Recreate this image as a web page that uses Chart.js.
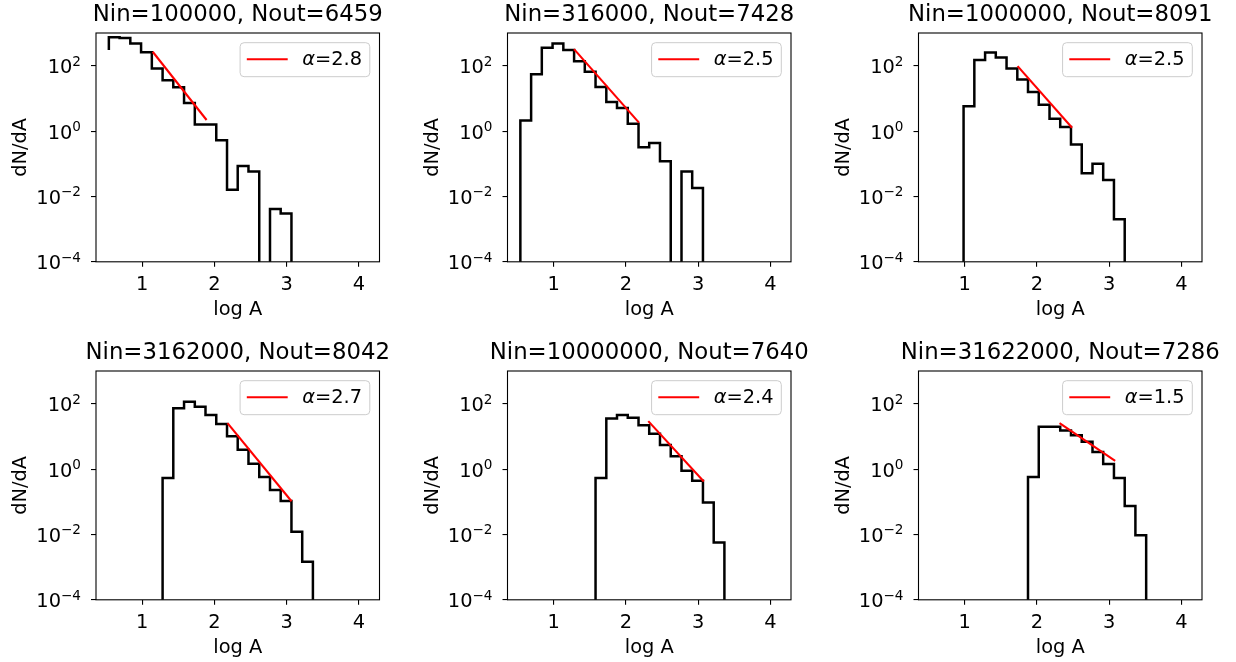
<!DOCTYPE html>
<html>
<head>
<meta charset="utf-8">
<title>dN/dA histograms</title>
<script src="https://cdn.jsdelivr.net/npm/chart.js@4.4.1/dist/chart.umd.min.js"></script>
<style>
  html, body { margin: 0; padding: 0; background: #ffffff; }
  #figure { position: relative; width: 1236px; height: 662px; overflow: hidden; }
  #figure canvas { position: absolute; left: 0; top: 0; }
</style>
</head>
<body>
<div id="figure"></div>
<script>
// ---- data -------------------------------------------------------------
// Histogram bin edges in log A (24 bins)
const BIN_EDGES = [0.538, 0.687, 0.835, 0.984, 1.133, 1.282, 1.430, 1.579, 1.728,
                   1.876, 2.025, 2.174, 2.322, 2.471, 2.620, 2.769, 2.917, 3.066,
                   3.215, 3.363, 3.512, 3.661, 3.810, 3.958, 4.107];

// dN/dA per bin for each run (0 = empty bin)
const DNDA_100000   = [740, 700, 480, 256, 82, 36, 22, 7.2, 1.6, 1.6, 0.52, 0.016,
                       0.085, 0.058, 0, 0.0041, 0.0030, 0, 0, 0, 0, 0, 0, 0];
const DNDA_316000   = [2.1, 55, 355, 480, 300, 137, 65, 22.4, 7.8, 5.1, 1.68, 0.32,
                       0.43, 0.12, 0, 0.058, 0.018, 0, 0, 0, 0, 0, 0, 0];
const DNDA_1000000  = [0, 0, 0, 5.7, 148, 253, 178, 82, 37.6, 15.8, 6.4, 2.4,
                       1.33, 0.39, 0.051, 0.10, 0.032, 0.0020, 0, 0, 0, 0, 0, 0];
const DNDA_3162000  = [0, 0, 0, 0, 0, 0.53, 72, 115, 81, 45, 24, 10,
                       3.9, 1.46, 0.57, 0.23, 0.106, 0.012, 0.00145, 0, 0, 0, 0, 0];
const DNDA_10000000 = [0, 0, 0, 0, 0, 0, 0, 0.53, 35.5, 45, 37, 22,
                       12, 5.4, 2.45, 0.89, 0.44, 0.094, 0.0057, 0, 0, 0, 0, 0];
const DNDA_31622000 = [0, 0, 0, 0, 0, 0, 0, 0, 0, 0.57, 19.6, 19.6,
                       15, 10.9, 6.8, 3.3, 1.43, 0.53, 0.074, 0.0095, 0, 0, 0, 0];
const DNDA = [DNDA_100000, DNDA_316000, DNDA_1000000, DNDA_3162000, DNDA_10000000, DNDA_31622000];

// level the step trace starts from at the first edge
const LEAD_IN = [300, 0, 0, 0, 0, 0];

const N_IN  = [100000, 316000, 1000000, 3162000, 10000000, 31622000];
const N_OUT = [6459, 7428, 8091, 8042, 7640, 7286];

// power-law fits dN/dA ~ A^-alpha
const ALPHA      = [2.8, 2.5, 2.5, 2.7, 2.4, 1.5];
const FIT_FROM   = [1.145, 1.281, 1.732, 2.181, 2.309, 2.313];
const FIT_TO     = [1.891, 2.180, 2.486, 3.067, 3.078, 3.083];
const FIT_START  = [267, 320, 97, 25.5, 29.2, 25.3];

// axes
const X_TICKS = [1, 2, 3, 4];
const Y_TICKS = [1e-4, 1e-2, 1, 1e2];
const Y_TICK_EXPONENTS = ['\u22124', '\u22122', '0', '2'];
const X_RANGE = [0.36, 4.285];
const Y_RANGE = [1e-4, 1e3];

// ---- layout & style ---------------------------------------------------
const FIG_W = 1236, FIG_H = 662;
const COL_LEFT = [96, 507.5, 918.5];
const ROW_TOP = [33, 371];
const AX_W = 283.5, AX_H = 228.8;
const Y_AXIS_W = 70, X_AXIS_H = 45;
const FONT = '"DejaVu Sans", "Liberation Sans", sans-serif';
const TITLE_PX = 22.8, LABEL_PX = 19.4, TICK_PX = 19.4, LEGEND_PX = 19.4;
const SUP_SCALE = 0.7;
const OFF_SCALE = 1e-12; // empty bins sit far below the visible range and get clipped

function stepPoints(values, lead) {
  const pts = [{ x: BIN_EDGES[0], y: lead > 0 ? lead : OFF_SCALE }];
  values.forEach((v, i) => pts.push({ x: BIN_EDGES[i + 1], y: v > 0 ? v : OFF_SCALE }));
  return pts;
}

function fitPoints(i) {
  const x0 = FIT_FROM[i], x1 = FIT_TO[i];
  return [
    { x: x0, y: FIT_START[i] },
    { x: x1, y: FIT_START[i] * Math.pow(10, -ALPHA[i] * (x1 - x0)) }
  ];
}

function roundRect(ctx, x, y, w, h, r) {
  ctx.beginPath();
  ctx.moveTo(x + r, y);
  ctx.lineTo(x + w - r, y);
  ctx.arcTo(x + w, y, x + w, y + r, r);
  ctx.lineTo(x + w, y + h - r);
  ctx.arcTo(x + w, y + h, x + w - r, y + h, r);
  ctx.lineTo(x + r, y + h);
  ctx.arcTo(x, y + h, x, y + h - r, r);
  ctx.lineTo(x, y + r);
  ctx.arcTo(x, y, x + r, y, r);
  ctx.closePath();
}

const panelDecor = {
  id: 'panelDecor',
  afterDatasetsDraw(chart, args, opts) {
    const { ctx, chartArea: a } = chart;
    const xs = chart.scales.x, ys = chart.scales.y;
    ctx.save();
    // axes frame
    ctx.strokeStyle = '#000';
    ctx.lineWidth = 1.1;
    ctx.strokeRect(a.left, a.top, a.right - a.left, a.bottom - a.top);

    ctx.fillStyle = '#000';
    ctx.textBaseline = 'alphabetic';

    // tick labels
    ctx.textAlign = 'center';
    ctx.font = `${TICK_PX}px ${FONT}`;
    X_TICKS.forEach(v => ctx.fillText(String(v), xs.getPixelForValue(v), a.bottom + 28));

    ctx.textAlign = 'left';
    const baseFont = `${TICK_PX}px ${FONT}`;
    const supFont = `${TICK_PX * SUP_SCALE}px ${FONT}`;
    Y_TICKS.forEach((v, k) => {
      ctx.font = baseFont;
      const wb = ctx.measureText('10').width;
      ctx.font = supFont;
      const we = ctx.measureText(Y_TICK_EXPONENTS[k]).width;
      const x0 = a.left - 15 - wb - we;
      const y = ys.getPixelForValue(v) + 7.5;
      ctx.font = baseFont;
      ctx.fillText('10', x0, y);
      ctx.font = supFont;
      ctx.fillText(Y_TICK_EXPONENTS[k], x0 + wb, y - 7.5);
    });

    // title
    ctx.textAlign = 'center';
    ctx.font = `${TITLE_PX}px ${FONT}`;
    ctx.fillText(opts.title, (a.left + a.right) / 2, a.top - 12.5);

    // axis labels
    ctx.font = `${LABEL_PX}px ${FONT}`;
    ctx.fillText('log A', (a.left + a.right) / 2, a.bottom + 53.5);
    ctx.save();
    ctx.translate(a.left - 70, (a.top + a.bottom) / 2);
    ctx.rotate(-Math.PI / 2);
    ctx.fillText('dN/dA', 0, 0);
    ctx.restore();

    // legend
    const fs = LEGEND_PX;
    const pad = 0.4 * fs, handle = 2.0 * fs, gap = 0.8 * fs;
    const italic = `italic ${fs}px ${FONT}`, upright = `${fs}px ${FONT}`;
    ctx.font = italic;
    const wA = ctx.measureText('\u03B1').width;
    ctx.font = upright;
    const rest = '=' + opts.alpha.toFixed(1);
    const wR = ctx.measureText(rest).width;
    const bw = pad + handle + gap + wA + wR + pad;
    const bh = 34;
    const bx = a.right - 0.5 * fs - bw, by = a.top + 0.5 * fs;
    roundRect(ctx, bx, by, bw, bh, 4);
    ctx.fillStyle = 'rgba(255,255,255,0.8)';
    ctx.fill();
    ctx.strokeStyle = '#cccccc';
    ctx.lineWidth = 1;
    ctx.stroke();

    ctx.beginPath();
    ctx.moveTo(bx + pad, by + 16.5);
    ctx.lineTo(bx + pad + handle, by + 16.5);
    ctx.strokeStyle = '#ff0000';
    ctx.lineWidth = 2.1;
    ctx.lineCap = 'square';
    ctx.stroke();

    ctx.fillStyle = '#000';
    ctx.textAlign = 'left';
    const tx = bx + pad + handle + gap, ty = by + 22.5;
    ctx.font = italic;
    ctx.fillText('\u03B1', tx, ty);
    ctx.font = upright;
    ctx.fillText(rest, tx + wA, ty);
    ctx.restore();
  }
};

const fig = document.getElementById('figure');

DNDA.forEach((values, i) => {
  const col = i % 3, row = Math.floor(i / 3);
  const left = COL_LEFT[col], top = ROW_TOP[row];
  const right = left + AX_W, bottom = top + AX_H;

  const canvas = document.createElement('canvas');
  canvas.width = FIG_W;
  canvas.height = FIG_H;
  canvas.style.width = FIG_W + 'px';
  canvas.style.height = FIG_H + 'px';
  fig.appendChild(canvas);

  new Chart(canvas, {
    type: 'line',
    data: {
      datasets: [
        {
          label: '\u03B1=' + ALPHA[i].toFixed(1),
          data: fitPoints(i),
          borderColor: '#ff0000',
          borderWidth: 2.1,
          pointRadius: 0,
          fill: false,
          order: 0
        },
        {
          label: 'hist',
          data: stepPoints(values, LEAD_IN[i]),
          stepped: 'after',
          borderColor: '#000000',
          borderWidth: 2.5,
          borderJoinStyle: 'miter',
          pointRadius: 0,
          fill: false,
          order: 1
        }
      ]
    },
    options: {
      responsive: false,
      animation: false,
      devicePixelRatio: 1,
      events: [],
      layout: {
        padding: {
          left: left - Y_AXIS_W,
          top: top,
          right: FIG_W - right,
          bottom: FIG_H - bottom - X_AXIS_H
        }
      },
      plugins: {
        legend: { display: false },
        title: { display: false },
        tooltip: { enabled: false },
        panelDecor: { title: `Nin=${N_IN[i]}, Nout=${N_OUT[i]}`, alpha: ALPHA[i] }
      },
      scales: {
        x: {
          type: 'linear',
          min: X_RANGE[0],
          max: X_RANGE[1],
          afterBuildTicks: s => { s.ticks = X_TICKS.map(v => ({ value: v })); },
          afterFit: s => { s.height = X_AXIS_H; },
          border: { display: false },
          grid: { drawOnChartArea: false, drawTicks: true, tickLength: 5, color: '#000', lineWidth: 1.1 },
          ticks: { autoSkip: false, maxRotation: 0, callback: () => '' }
        },
        y: {
          type: 'logarithmic',
          min: Y_RANGE[0],
          max: Y_RANGE[1],
          afterBuildTicks: s => { s.ticks = Y_TICKS.map(v => ({ value: v })); },
          afterFit: s => { s.width = Y_AXIS_W; },
          border: { display: false },
          grid: { drawOnChartArea: false, drawTicks: true, tickLength: 5, color: '#000', lineWidth: 1.1 },
          ticks: { autoSkip: false, callback: () => '' }
        }
      }
    },
    plugins: [panelDecor]
  });
});
</script>
</body>
</html>
